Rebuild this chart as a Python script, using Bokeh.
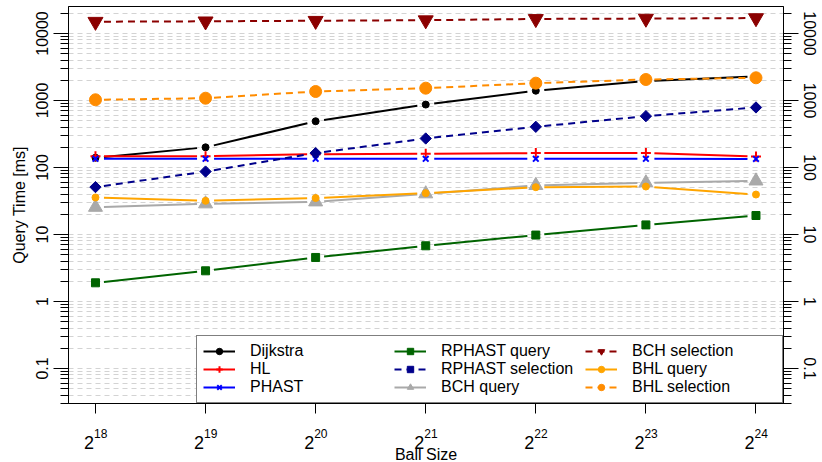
import numpy as np
from bokeh.plotting import figure
from bokeh.layouts import column
from bokeh.models import (FixedTicker, LogAxis, Legend, LegendItem, Range1d,
                          ColumnDataSource)
from bokeh.core.properties import value
from bokeh.embed import file_html
from bokeh.resources import INLINE

# ---------------- data ----------------
exponents = [18, 19, 20, 21, 22, 23, 24]
ball_size = [2 ** e for e in exponents]
x_tick_base = ["2", "2", "2", "2", "2", "2", "2"]
x_tick_exp = ["18", "19", "20", "21", "22", "23", "24"]
x_title = "Ball Size"
y_title = "Query Time [ms]"

y_ticks = [0.1, 1, 10, 100, 1000, 10000]
y_tick_labels = ["0.1", "1", "10", "100", "1000", "10000"]

dijkstra = [140, 200, 490, 870, 1400, 1950, 2300]
hl = [147, 147, 158, 160, 164, 164, 146]
phast = [135, 135, 135, 135, 135, 135, 134]
rphast_query = [1.9, 2.87, 4.54, 6.78, 9.8, 13.9, 19.2]
rphast_selection = [51, 87, 164, 271, 405, 584, 787]
bch_query = [25.5, 28.7, 30.7, 40.5, 54, 59, 63]
bch_selection = [15000, 15200, 15500, 15800, 16500, 16700, 17000]
bhl_query = [35.7, 31.8, 35, 41.4, 50.8, 52, 39.5]
bhl_selection = [1025, 1082, 1362, 1527, 1815, 2057, 2183]

series = [
    ("Dijkstra", dijkstra, "#000000", "solid", "circle", 7),
    ("HL", hl, "#FF0000", "solid", "cross", 10),
    ("PHAST", phast, "#0000FF", "solid", "x", 8),
    ("RPHAST query", rphast_query, "#006400", "solid", "square", 8),
    ("RPHAST selection", rphast_selection, "#00008B", "dashed", "diamond", 8),
    ("BCH query", bch_query, "#A9A9A9", "solid", "triangle", 14),
    ("BCH selection", bch_selection, "#8B0000", "dashed", "inverted_triangle", 15),
    ("BHL query", bhl_query, "#FFA500", "solid", "circle", 7),
    ("BHL selection", bhl_selection, "#FF8C00", "dashed", "circle", 12),
]

# ---------------- layout ----------------
W = 822
H_MAIN, H_TICKS = 414, 48
BL, BR, BT, BB = 68, 39, 6, 11
FW, FH = W - BL - BR, H_MAIN - BT - BB
X0, X1 = 2 ** 17.755, 2 ** 24.25
Y0, Y1 = 0.030, 25300.0
FONT = "Liberation Sans"

x_range = Range1d(X0, X1)
p = figure(width=W, height=H_MAIN, x_axis_type="log", y_axis_type="log",
           x_range=x_range, y_range=Range1d(Y0, Y1),
           output_backend="svg", toolbar_location=None,
           min_border_left=BL, min_border_right=BR,
           min_border_top=BT, min_border_bottom=BB)
p.background_fill_color = "white"
p.border_fill_color = "white"
p.outline_line_color = "black"
p.outline_line_width = 1

# ticks
x_ticker = FixedTicker(ticks=ball_size, minor_ticks=[])
minor = [m * 10.0 ** k for k in range(-2, 5) for m in range(2, 10)]
minor = [v for v in minor if Y0 <= v <= Y1]
y_ticker = FixedTicker(ticks=y_ticks, minor_ticks=minor)

xa = p.xaxis[0]
xa.ticker = x_ticker
xa.major_label_overrides = {b: "" for b in ball_size}
xa.major_tick_out = 10
xa.major_tick_in = 0
xa.minor_tick_out = 0
xa.minor_tick_in = 0
xa.major_label_standoff = 0

ya = p.yaxis[0]
ya.axis_label = y_title
ya.major_label_standoff = 5
ya.axis_label_standoff = 6

ra = LogAxis()
ra.major_label_standoff = 5
p.add_layout(ra, "right")

for ax in (ya, ra):
    ax.ticker = y_ticker
    ax.major_label_overrides = {float(v): t for v, t in zip(y_ticks, y_tick_labels)}
    ax.major_label_orientation = "vertical"
    ax.major_tick_out = 15
    ax.major_tick_in = 0
    ax.minor_tick_out = 8
    ax.minor_tick_in = 0
    ax.major_label_text_font_size = "16px"

for ax in (xa, ya, ra):
    ax.axis_line_color = "black"
    ax.major_tick_line_color = "black"
    ax.minor_tick_line_color = "black"
    ax.major_label_text_font = FONT
    ax.major_label_text_color = "black"
    ax.axis_label_text_font = FONT
    ax.axis_label_text_font_size = "16px"
    ax.axis_label_text_font_style = "normal"
    ax.axis_label_text_color = "black"

p.xgrid.visible = False
p.ygrid.ticker = y_ticker
p.ygrid.grid_line_color = "#D3D3D3"
p.ygrid.grid_line_dash = "5 4"
p.ygrid.minor_grid_line_color = "#D3D3D3"
p.ygrid.minor_grid_line_dash = "5 4"


def gapped(xs, ys, gap=8.5):
    sx = FW / (np.log2(X1) - np.log2(X0))
    sy = FH / (np.log10(Y1) - np.log10(Y0))
    px = np.log2(np.asarray(xs, float)) * sx
    py = np.log10(np.asarray(ys, float)) * sy
    x0, y0, x1, y1 = [], [], [], []
    for i in range(len(px) - 1):
        dx, dy = px[i + 1] - px[i], py[i + 1] - py[i]
        L = np.hypot(dx, dy)
        if L <= 2 * gap:
            continue
        ux, uy = dx / L, dy / L
        x0.append(2 ** ((px[i] + ux * gap) / sx))
        y0.append(10 ** ((py[i] + uy * gap) / sy))
        x1.append(2 ** ((px[i + 1] - ux * gap) / sx))
        y1.append(10 ** ((py[i + 1] - uy * gap) / sy))
    return x0, y0, x1, y1


items = []
for name, vals, color, dash, marker, size in series:
    x0, y0, x1, y1 = gapped(ball_size, vals)
    dash_pat = "7 5" if dash == "dashed" else "solid"
    seg = p.segment(x0=x0, y0=y0, x1=x1, y1=y1, line_color=color,
                    line_width=2, line_dash=dash_pat)
    kw = dict(marker=marker, size=size, fill_color=color, line_color=color)
    if marker == "diamond":
        kw["marker"] = "square"
        kw["angle"] = np.pi / 4
    if marker in ("cross", "x"):
        kw["line_width"] = 2
    sc = p.scatter(x=ball_size, y=vals, **kw)
    items.append(LegendItem(label=name, renderers=[seg, sc]))

legend = Legend(items=items, location="bottom_right", ncols=3,
                orientation="vertical",
                glyph_width=32, glyph_height=16, label_height=16,
                label_standoff=15, label_width=144, spacing=0, padding=6,
                margin=0, border_line_color="black", border_line_width=1,
                background_fill_color="white", background_fill_alpha=1.0,
                label_text_font=FONT, label_text_font_size="16px",
                label_text_color="black")
p.add_layout(legend)

# ---------------- strip below: x tick labels 2^n and axis title ----------------
p2 = figure(width=W, height=H_TICKS, x_axis_type="log", x_range=x_range,
            y_range=Range1d(0, H_TICKS), output_backend="svg",
            toolbar_location=None,
            min_border_left=BL, min_border_right=BR, min_border_top=0,
            min_border_bottom=0, x_axis_location=None, y_axis_location=None)
p2.outline_line_color = None
p2.background_fill_color = "white"
p2.border_fill_color = "white"
p2.grid.visible = False

# y in this strip counts pixels up from the bottom of the strip
tick_src = ColumnDataSource(dict(x=ball_size,
                                 yb=[20] * len(ball_size),
                                 ye=[29] * len(ball_size),
                                 base=x_tick_base, exp=x_tick_exp))
p2.text(x="x", y="yb", text="base", source=tick_src, x_offset=-1.5,
        text_align="right", text_baseline="alphabetic",
        text_font=value(FONT), text_font_size="18px", text_color="black")
p2.text(x="x", y="ye", text="exp", source=tick_src, x_offset=-1.5,
        text_align="left", text_baseline="alphabetic",
        text_font=value(FONT), text_font_size="12px", text_color="black")
x_center = 2 ** ((np.log2(X0) + np.log2(X1)) / 2)
p2.text(x=[x_center], y=[8], text=[x_title], text_align="center",
        text_baseline="alphabetic", text_font=value(FONT),
        text_font_size="16px", text_color="black")

layout = column(p, p2, spacing=0)
open("out.html", "w").write(file_html(layout, INLINE))
